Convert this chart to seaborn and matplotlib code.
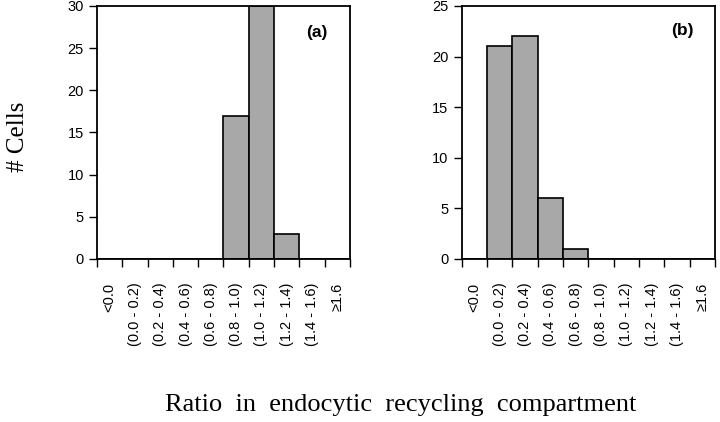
import numpy as np
import pandas as pd
import matplotlib
matplotlib.use("Agg")
import matplotlib.pyplot as plt
import seaborn as sns

# ------------------------------------------
# Data
# ------------------------------------------
bins = ["<0.0", "(0.0 - 0.2)", "(0.2 - 0.4)", "(0.4 - 0.6)", "(0.6 - 0.8)",
        "(0.8 - 1.0)", "(1.0 - 1.2)", "(1.2 - 1.4)", "(1.4 - 1.6)", "\u22651.6"]
cells_a = [0, 0, 0, 0, 0, 17, 30, 3, 0, 0]
cells_b = [0, 21, 22, 6, 1, 0, 0, 0, 0, 0]
ymax_a = 30
ymax_b = 25

sns.set_style("ticks")
plt.rcParams["font.family"] = ["Liberation Sans", "DejaVu Sans"]
plt.rcParams["text.color"] = "black"
plt.rcParams["xtick.color"] = "black"
plt.rcParams["ytick.color"] = "black"

fig = plt.figure(figsize=(7.2, 4.22), dpi=100)
ax_a = fig.add_axes([0.1347, 0.3863, 0.3514, 0.5995])
ax_b = fig.add_axes([0.6413, 0.3863, 0.352, 0.5995])


def draw_panel(ax, counts, ymax, tag, tag_xy):
    df = pd.DataFrame({"bin": bins, "cells": counts})
    sns.barplot(data=df, x="bin", y="cells", order=bins, color="#a8a8a8",
                saturation=1, width=1.0, edgecolor="black", linewidth=1.2, ax=ax)
    ax.set_xlim(-0.5, len(bins) - 0.5)
    ax.set_ylim(0, ymax)
    ax.set_yticks(np.arange(0, ymax + 1, 5))
    # bin edges get tick marks, bin centres get the labels
    ax.set_xticks(np.arange(-0.5, len(bins), 1.0))
    ax.set_xticklabels([])
    ax.set_xticks(np.arange(len(bins)), minor=True)
    ax.set_xticklabels(bins, minor=True, rotation=90, fontsize=10.5)
    ax.tick_params(axis="x", which="minor", length=0, pad=17)
    ax.tick_params(axis="both", which="major", direction="out", length=6,
                   width=1.0, labelsize=10.5, color="black")
    for s in ax.spines.values():
        s.set_visible(True)
        s.set_linewidth(1.3)
        s.set_color("black")
    ax.set_xlabel("")
    ax.set_ylabel("")
    ax.text(tag_xy[0], tag_xy[1], tag, transform=ax.transAxes, fontsize=12.5,
            fontweight="bold", ha="center", va="center")


draw_panel(ax_a, cells_a, ymax_a, "(a)", (0.87, 0.895))
draw_panel(ax_b, cells_b, ymax_b, "(b)", (0.87, 0.905))

fig.text(0.025, 0.675, "# Cells", rotation=90, ha="center", va="center",
         fontsize=18, family=["Liberation Serif", "DejaVu Serif"])
fig.text(0.556, 0.04, "Ratio  in  endocytic  recycling  compartment",
         ha="center", va="center", fontsize=19,
         family=["Liberation Serif", "DejaVu Serif"])

fig.savefig("out.png", dpi=100)
